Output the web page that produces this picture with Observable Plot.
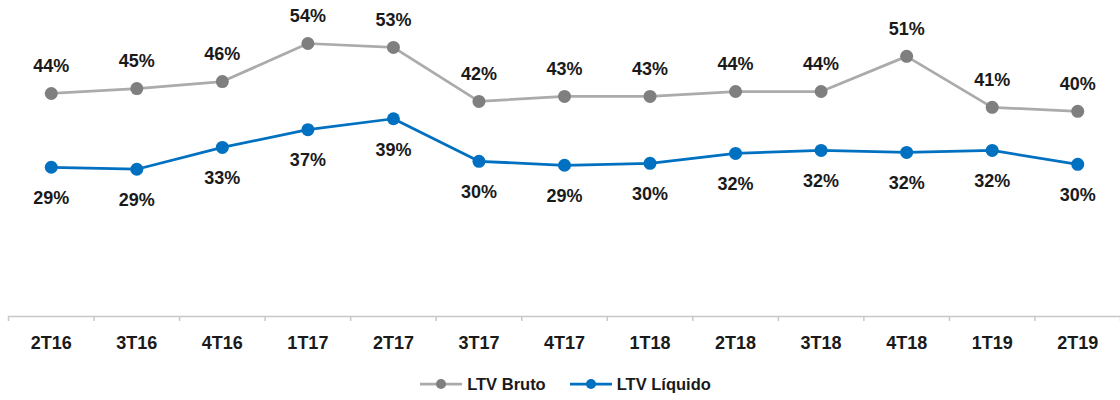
<!DOCTYPE html>
<html>
<head>
<meta charset="utf-8">
<script src="https://cdn.jsdelivr.net/npm/d3@7"></script>
<script src="https://cdn.jsdelivr.net/npm/@observablehq/plot@0.6"></script>
<style>
  body { margin: 0; background: #fff; }
  #legend {
    display: flex; justify-content: center; align-items: center;
    height: 44px; padding-left: 11px;
    font-family: "Liberation Sans", Arial, sans-serif;
    font-weight: bold; font-size: 16.5px; color: #1a1a1a;
  }
  .item { display: flex; align-items: center; margin: 0 12px; }
  .item svg { margin-right: 5px; }
</style>
</head>
<body>
<div id="chart"></div>
<div id="legend"></div>
<script>
const quarters = ["2T16","3T16","4T16","1T17","2T17","3T17","4T17","1T18","2T18","3T18","4T18","1T19","2T19"];
const ltvBruto   = [43.9, 44.9, 46.3, 54.0, 53.2, 42.3, 43.3, 43.3, 44.3, 44.3, 51.4, 41.1, 40.3];
const ltvLiquido = [29.0, 28.6, 33.0, 36.6, 38.8, 30.2, 29.4, 29.8, 31.8, 32.4, 32.0, 32.4, 29.6];
const seriesNames = ["LTV Bruto", "LTV Líquido"];
const lineColors = ["#ABABAB", "#0070C0"];
const dotColors  = ["#7F7F7F", "#0070C0"];

const Y_MIN = -1.15, Y_MAX = 60;
const W = 1120, H = 362;

const bruto = quarters.map((q, i) => ({i, q, v: ltvBruto[i]}));
const liquido = quarters.map((q, i) => ({i, q, v: ltvLiquido[i]}));
const boundaries = d3.range(quarters.length + 1).map(k => k - 0.5);

const labelFont = { fontSize: 18, fontWeight: "bold", fill: "#1a1a1a" };

const chart = Plot.plot({
  width: W, height: H,
  marginLeft: 8, marginRight: 0, marginTop: 13.3, marginBottom: H - 316,
  style: { fontFamily: "'Liberation Sans', Arial, sans-serif", background: "#fff", overflow: "visible" },
  x: { domain: [-0.5, quarters.length - 0.5], axis: null, label: null },
  y: { domain: [Y_MIN, Y_MAX], axis: null, label: null },
  marks: [
    Plot.ruleY([Y_MIN], { stroke: "#C8C8C8", strokeWidth: 1.5 }),
    Plot.axisX(boundaries, { tickSize: 5, tickFormat: () => "", stroke: "#C8C8C8", strokeWidth: 1.5, label: null }),
    Plot.text(quarters, {
      x: (d, i) => i, frameAnchor: "bottom", dy: 26.5, text: d => d, lineAnchor: "middle",
      fontSize: 18, fontWeight: "bold", fill: "#1a1a1a"
    }),
    Plot.line(bruto, { x: "i", y: "v", stroke: lineColors[0], strokeWidth: 2.75 }),
    Plot.line(liquido, { x: "i", y: "v", stroke: lineColors[1], strokeWidth: 2.75 }),
    Plot.dot(bruto, { x: "i", y: "v", r: 6.5, fill: dotColors[0], stroke: null }),
    Plot.dot(liquido, { x: "i", y: "v", r: 6.5, fill: dotColors[1], stroke: null }),
    Plot.text(bruto, { x: "i", y: "v", text: d => Math.round(d.v) + "%", dy: -27, lineAnchor: "middle", ...labelFont }),
    Plot.text(liquido, { x: "i", y: "v", text: d => Math.round(d.v) + "%", dy: 31, lineAnchor: "middle", ...labelFont })
  ]
});
document.getElementById("chart").appendChild(chart);

const legend = d3.select("#legend");
seriesNames.forEach((name, k) => {
  const item = legend.append("div").attr("class", "item");
  const svg = item.append("svg").attr("width", 42).attr("height", 12);
  svg.append("line").attr("x1", 0).attr("x2", 42).attr("y1", 6).attr("y2", 6)
    .attr("stroke", lineColors[k]).attr("stroke-width", 2.75);
  svg.append("circle").attr("cx", 21).attr("cy", 6).attr("r", 5).attr("fill", dotColors[k]);
  item.append("span").text(name);
});
</script>
</body>
</html>
